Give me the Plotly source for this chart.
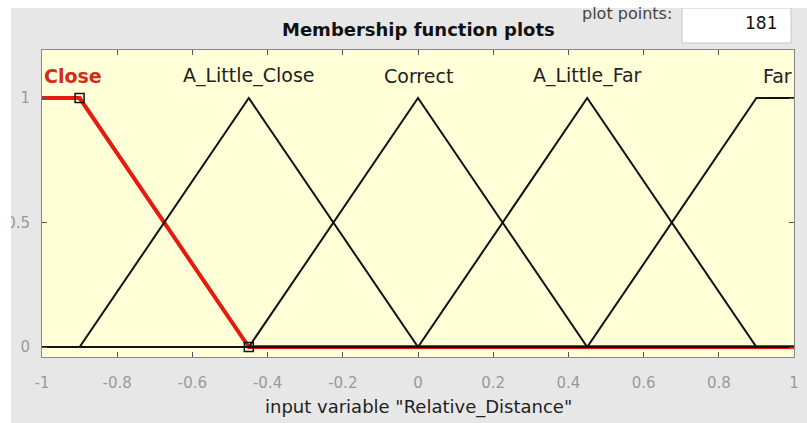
import plotly.graph_objects as go

# Membership functions of input variable "Relative_Distance"
mf_names = ["Close", "A_Little_Close", "Correct", "A_Little_Far", "Far"]
close_x = [-1, -0.9, -0.45, 1]
close_y = [1, 1, 0, 0]
little_close_x = [-1, -0.9, -0.45, 0, 1]
little_close_y = [0, 0, 1, 0, 0]
correct_x = [-1, -0.45, 0, 0.45, 1]
correct_y = [0, 0, 1, 0, 0]
little_far_x = [-1, 0, 0.45, 0.9, 1]
little_far_y = [0, 0, 1, 0, 0]
far_x = [-1, 0.45, 0.9, 1]
far_y = [0, 0, 1, 1]
label_x = [-1, -0.45, 0, 0.45, 1]
label_y = [1.09, 1.09, 1.09, 1.09, 1.09]
handle_x = [-0.9, -0.45]
handle_y = [1, 0]
x_ticks = [-1, -0.8, -0.6, -0.4, -0.2, 0, 0.2, 0.4, 0.6, 0.8, 1]
x_tick_text = ["-1", "-0.8", "-0.6", "-0.4", "-0.2", "0", "0.2", "0.4", "0.6", "0.8", "1"]
y_ticks = [0, 0.5, 1]
y_tick_text = ["0", "0.5", "1"]
plot_points = 181

W, H = 807, 423
L, R, T, B = 42, 13, 50, 66
PW, PH = W - L - R, H - T - B
FONT = "DejaVu Sans, Arial, sans-serif"


def px(xp):
    return (xp - L) / PW


def py(yp):
    return (H - B - yp) / PH


fig = go.Figure()

# selected MF (red, thick) drawn first so the black outlines sit on top
fig.add_trace(go.Scatter(x=close_x, y=close_y, mode="lines",
                         line=dict(color="#e8190f", width=4), hoverinfo="skip"))
for xs, ys in [(little_close_x, little_close_y), (correct_x, correct_y),
               (little_far_x, little_far_y), (far_x, far_y)]:
    fig.add_trace(go.Scatter(x=xs, y=ys, mode="lines",
                             line=dict(color="#111111", width=2), hoverinfo="skip"))
fig.add_trace(go.Scatter(x=handle_x, y=handle_y, mode="markers",
                         marker=dict(symbol="square-open", size=9,
                                     color="#111111", line=dict(width=1.5)),
                         hoverinfo="skip"))

for i, name in enumerate(mf_names):
    if i == 0:
        anchor, color, txt = "left", "#d42a1c", "<b>%s</b>" % name
    elif i == len(mf_names) - 1:
        anchor, color, txt = "right", "#222222", name
    else:
        anchor, color, txt = "center", "#222222", name
    fig.add_annotation(x=label_x[i], y=label_y[i], text=txt, showarrow=False,
                       xanchor=anchor, yanchor="middle",
                       font=dict(size=19, color=color))

# headings and the plot-points box
fig.add_annotation(x=px(418), y=py(30), xref="paper", yref="paper",
                   text="<b>Membership function plots</b>", showarrow=False,
                   xanchor="center", yanchor="middle",
                   font=dict(size=18, color="#111111"))
fig.add_annotation(x=px(627), y=py(14), xref="paper", yref="paper",
                   text="plot points:", showarrow=False,
                   xanchor="center", yanchor="middle",
                   font=dict(size=16, color="#444444"))
fig.add_annotation(x=px(779), y=py(23), xref="paper", yref="paper",
                   text=str(plot_points), showarrow=False,
                   xanchor="right", yanchor="middle",
                   font=dict(size=17, color="#111111"))
fig.add_annotation(x=px(418), y=py(407), xref="paper", yref="paper",
                   text='input variable "Relative_Distance"', showarrow=False,
                   xanchor="center", yanchor="middle",
                   font=dict(size=18, color="#222222"))

shapes = [
    # white text box for the plot points value
    dict(type="rect", xref="paper", yref="paper", layer="above",
         x0=px(682), x1=px(791), y0=py(43), y1=py(8),
         fillcolor="#ffffff", line=dict(color="#c8c8c8", width=1)),
    # white margin strips on the left and top edges
    dict(type="rect", xref="paper", yref="paper", layer="above",
         x0=px(-2), x1=px(11), y0=py(H + 2), y1=py(-2),
         fillcolor="#ffffff", line=dict(width=0)),
    dict(type="rect", xref="paper", yref="paper", layer="above",
         x0=px(-2), x1=px(W + 2), y0=py(8), y1=py(-2),
         fillcolor="#ffffff", line=dict(width=0)),
]

fig.update_layout(
    width=W, height=H,
    margin=dict(l=L, r=R, t=T, b=B, pad=0, autoexpand=False),
    paper_bgcolor="#e7e7e7",
    plot_bgcolor="#ffffd8",
    showlegend=False,
    font=dict(family=FONT),
    shapes=shapes,
)
fig.update_xaxes(range=[-1, 1], tickvals=x_ticks, ticktext=x_tick_text,
                 ticks="inside", ticklen=5, tickcolor="#555555",
                 showline=True, linecolor="#888888", linewidth=1, mirror="ticks",
                 showgrid=False, zeroline=False, ticklabelstandoff=12,
                 automargin=False,
                 tickfont=dict(size=15, color="#9a9a9a"))
fig.update_yaxes(range=[-0.04, 1.193], tickvals=y_ticks, ticktext=y_tick_text,
                 ticks="inside", ticklen=5, tickcolor="#555555",
                 showline=True, linecolor="#888888", linewidth=1, mirror="ticks",
                 showgrid=False, zeroline=False, ticklabelstandoff=8,
                 automargin=False,
                 tickfont=dict(size=15, color="#9a9a9a"))

fig.write_html("out.html")
